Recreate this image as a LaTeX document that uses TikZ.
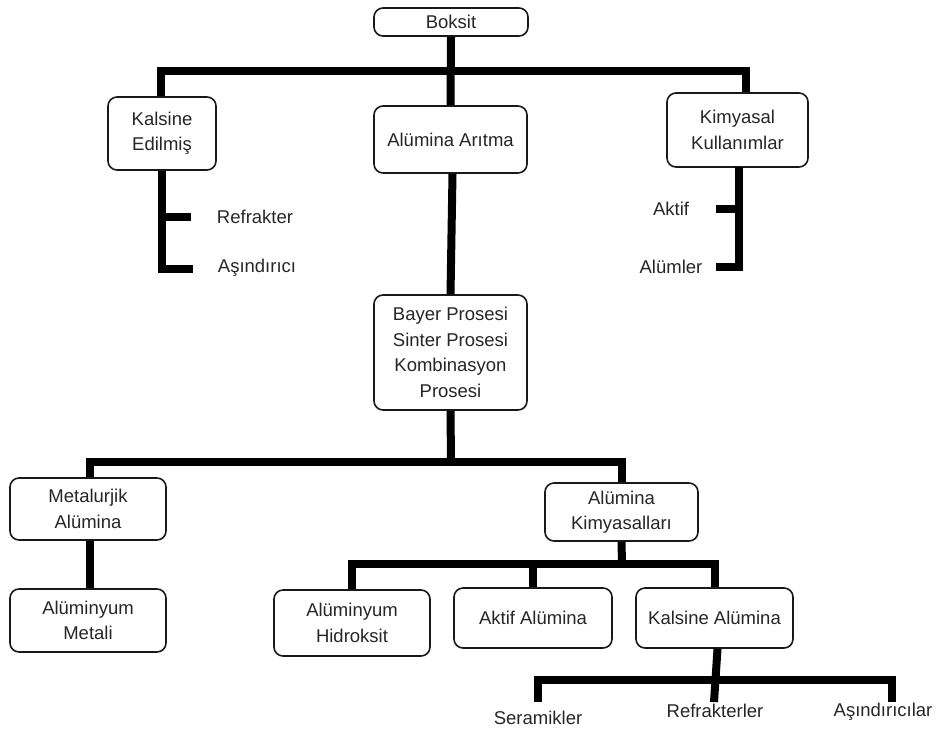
\documentclass[tikz,border=0pt]{standalone}
\usepackage{fontspec}
\setmainfont{Liberation Sans}
\begin{document}
\begin{tikzpicture}[x=1pt,y=1pt,
  box/.style={draw=black!90, rounded corners=9pt, line width=1.6pt, fill=white, align=center, inner sep=0pt, font=\fontsize{18.5}{25.5}\selectfont, text=black!85},
  lbl/.style={inner sep=0pt, font=\fontsize{18.5}{25.5}\selectfont, text=black!85},
  conn/.style={line width=8pt, line join=miter, line cap=butt}]
\useasboundingbox (0,0) rectangle (947,-729);
% boxes
\node[box, minimum width=154pt, minimum height=28pt] (boksit) at (451,-22) {Boksit};
\node[box, minimum width=108pt, minimum height=73pt] (kal) at (162,-133.5) {Kalsine\\Edilmiş};
\node[box, minimum width=153pt, minimum height=67pt] (arit) at (450.5,-139.5) {Alümina Arıtma};
\node[box, minimum width=141pt, minimum height=74pt] (kim) at (737.5,-130) {Kimyasal\\Kullanımlar};
\node[box, minimum width=153pt, minimum height=115pt] (bayer) at (450.5,-352.5) {Bayer Prosesi\\Sinter Prosesi\\Kombinasyon\\Prosesi};
\node[box, minimum width=156pt, minimum height=62pt] (met) at (88,-509) {Metalurjik\\Alümina};
\node[box, minimum width=156pt, minimum height=63pt] (alm) at (88,-620.5) {Alüminyum\\Metali};
\node[box, minimum width=153pt, minimum height=58pt] (akim) at (621.5,-512) {Alümina\\Kimyasalları};
\node[box, minimum width=156pt, minimum height=66pt] (hid) at (352,-623) {Alüminyum\\Hidroksit};
\node[box, minimum width=158pt, minimum height=60pt] (akt) at (533,-618) {Aktif Alümina};
\node[box, minimum width=157pt, minimum height=60pt] (kalal) at (714.5,-618) {Kalsine Alümina};
% labels
\node[lbl] (refr) at (255,-217) {Refrakter};
\node[lbl] (asin) at (257,-268) {Aşındırıcı};
\node[lbl] (aktif) at (671,-209) {Aktif};
\node[lbl] (alum) at (671,-267) {Alümler};
\node[lbl] (seram) at (538,-718) {Seramikler};
\node[lbl] (refrl) at (715,-711) {Refrakterler};
\node[lbl] (asinl) at (883,-712) {Aşındırıcılar};
% coordinates
\coordinate (tb) at (451,-71);
\coordinate (kalbot) at (162,-269);
\coordinate (kaltick) at (162,-217);
\coordinate (kalt1) at (191,-217);
\coordinate (kalt2) at (193,-269);
\coordinate (kimtop) at (739,-167);
\coordinate (kimbot) at (739,-267);
\coordinate (kimtick) at (739,-209);
\coordinate (kimt1) at (716,-209);
\coordinate (kimt2) at (716,-267);
\coordinate (mb) at (451,-462);
\coordinate (lb) at (622,-564);
\coordinate (bb) at (716,-680);
\coordinate (bl) at (538,-702);
\coordinate (br) at (892,-702);
\coordinate (bm) at (714,-702);
% connectors
\draw[conn] (boksit.south) -- (arit.north);
\draw[conn] ([xshift=-1pt]kal.north) |- (tb) -| ([xshift=8.5pt]kim.north);
\draw[conn] ([xshift=2pt]arit.south) -- (bayer.north);
\draw[conn] (kal.south) -- (kalbot) -- (kalt2);
\draw[conn] (kaltick) -- (kalt1);
\draw[conn] (kimtop) -- (kimbot) -- (kimt2);
\draw[conn] (kimtick) -- (kimt1);
\draw[conn] (bayer.south) -- (mb);
\draw[conn] ([xshift=2pt]met.north) |- (mb) -| (akim.north);
\draw[conn] ([xshift=2pt]met.south) -- ([xshift=2pt]alm.north);
\draw[conn] (akim.south) -- (lb);
\draw[conn] (hid.north) |- (lb) -| (kalal.north);
\draw[conn] (akt.north) -- (akt.north |- lb);
\draw[conn] ([xshift=3pt]kalal.south) -- (bm);
\draw[conn] (bl) |- (bb) -| (br);
\end{tikzpicture}
\end{document}
